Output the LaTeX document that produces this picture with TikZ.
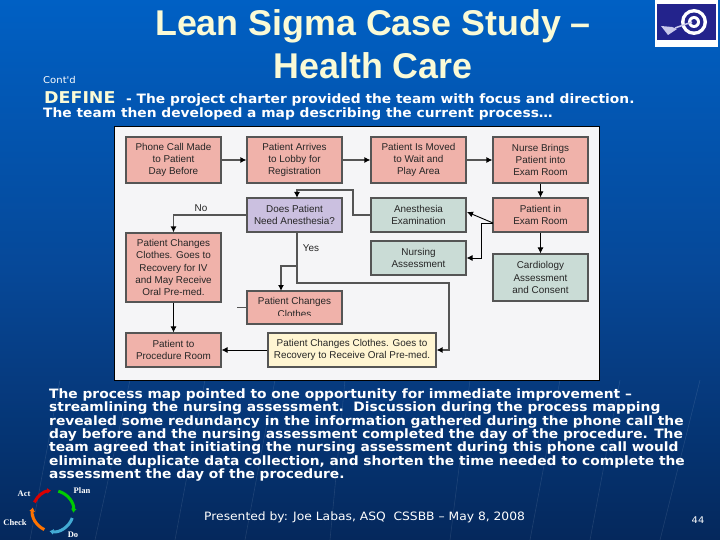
\documentclass[tikz,border=0pt]{standalone}
\usepackage{fontspec}
\usepackage{xcolor}
\setmainfont{Liberation Sans}
\newfontfamily\bodyfont[FakeStretch=1.07]{DejaVu Sans}
\newfontfamily\ladderfont{Liberation Serif}
\usetikzlibrary{arrows.meta, calc}
\definecolor{skytop}{RGB}{0,96,196}
\definecolor{skymid}{RGB}{6,72,152}
\definecolor{skylow}{RGB}{5,40,92}
\definecolor{titlecream}{RGB}{250,250,214}
\definecolor{panelgray}{RGB}{245,245,247}
\definecolor{boxred}{RGB}{240,178,170}
\definecolor{boxlilac}{RGB}{203,192,224}
\definecolor{boxgreen}{RGB}{202,220,214}
\definecolor{boxcream}{RGB}{255,245,210}
\definecolor{edgegray}{RGB}{85,85,85}
\definecolor{logonavy}{RGB}{35,35,140}
\definecolor{logopale}{RGB}{200,200,235}
\tikzset{
  procbox/.style={draw=edgegray,line width=1.1pt,fill=boxred,minimum width=95pt,align=center,
    inner sep=0pt,font=\fontsize{9.9}{12.4}\selectfont,text=black!85},
  grayline/.style={draw=edgegray,line width=1.4pt,-{Latex[black,length=6pt,width=6pt]}},
  blackline/.style={draw=black,line width=0.9pt,-{Latex[black,length=6pt,width=6pt]}},
  bodyline/.style={anchor=base west,inner sep=0pt,text=white,font=\bodyfont\bfseries\fontsize{12.9}{13}\selectfont},
  pdca/.style={line width=3pt,-{Latex[length=4pt,width=6pt]}},
  pdcalabel/.style={text=white,inner sep=0pt,font=\ladderfont\bfseries\fontsize{8.5}{9}\selectfont},
}
\begin{document}
\begin{tikzpicture}[x=1pt,y=-1pt]
  \useasboundingbox (0,0) rectangle (720,540);
  % slide background
  \shade[top color=skytop,bottom color=skylow,middle color=skymid,shading angle=0] (0,0) rectangle (720,540);
  \foreach \i/\j in {60/30,130/95,205/175,275/245,345/330,470/450,560/530,620/590,700/660}{
    \draw[white,opacity=0.10,line width=0.6pt] (\i,380) -- (\j,540);
  }
  % title block
  \node[text=titlecream,align=center,inner sep=0pt,font=\bfseries\fontsize{35.8}{43}\selectfont] (title) at (373,44) {Lean Sigma Case Study –\\Health Care};
  \node[anchor=base west,inner sep=0pt,text=white,font=\bodyfont\fontsize{9.4}{10}\selectfont] (contd) at (43,84) {Cont'd};
  \node[anchor=base west,inner sep=0pt,text=titlecream,font=\bodyfont\bfseries\fontsize{16.3}{17}\selectfont] (define) at (44,104) {DEFINE};
  \node[bodyline] (chartera) at (126,104) {- The project charter provided the team with focus and direction.};
  \node[bodyline] (charterb) at (43,118) {The team then developed a map describing the current process\ldots};
  % corner logo
  \fill[white] (655,0) rectangle (718,47);
  \fill[logonavy] (657,4) rectangle (716,40);
  \foreach \r/\c in {13/white,9.5/logonavy,6/white,3/logonavy}{
    \fill[\c] (694,22) circle (\r);
  }
  \draw[logopale,line width=1.5pt] (675,28) -- (692,22);
  \fill[logopale] (661,26) -- (672,27) -- (677,29) -- (668,35) -- cycle;
  % process map panel
  \node[draw=black,line width=0.8pt,fill=panelgray,minimum width=485pt,minimum height=254pt,inner sep=0pt] (panel) at (357,253) {};
  \node[procbox,minimum height=46pt] (phone) at (173.5,160) {Phone Call Made\\to Patient\\Day Before};
  \node[procbox,minimum height=46pt] (arrives) at (294.5,160) {Patient Arrives\\to Lobby for\\Registration};
  \node[procbox,minimum height=46pt] (moved) at (418.5,160) {Patient Is Moved\\to Wait and\\Play Area};
  \node[procbox,minimum height=46pt] (nurse) at (540.5,160) {Nurse Brings\\Patient into\\Exam Room};
  \node[procbox,minimum height=34pt,fill=boxlilac] (does) at (294.5,215) {Does Patient\\Need Anesthesia?};
  \node[procbox,minimum height=34pt,fill=boxgreen] (anes) at (418.5,215) {Anesthesia\\Examination};
  \node[procbox,minimum height=34pt] (exam) at (540.5,215) {Patient in\\Exam Room};
  \node[procbox,minimum height=34pt,fill=boxgreen] (nursing) at (418.5,258) {Nursing\\Assessment};
  \node[procbox,minimum height=47pt,fill=boxgreen] (cardio) at (540.5,277.5) {Cardiology\\Assessment\\and Consent};
  \node[procbox,minimum height=69pt] (changeiv) at (173.5,267.5) {Patient Changes\\Clothes. Goes to\\Recovery for IV\\and May Receive\\Oral Pre-med.};
  \node[procbox,minimum height=33pt] (clothes) at (294.5,307.5) {Patient Changes\\Clothes};
  \fill[boxred] (248,316) rectangle (341,323); % bottom of the word is cut off
  \node[procbox,minimum height=34pt] (proc) at (173.5,350) {Patient to\\Procedure Room};
  \node[procbox,minimum width=168pt,minimum height=34pt,fill=boxcream] (recov) at (352,350) {Patient Changes Clothes. Goes to\\Recovery to Receive Oral Pre-med.};
  \coordinate (examout) at (493,223);
  \coordinate (anesin) at (467,212);
  \coordinate (anesturn) at (353,190);
  \coordinate (doesin) at (297,198);
  \coordinate (doesout) at (297,232);
  \coordinate (yesturn) at (449,283);
  \coordinate (yesbranch) at (297,266);
  \coordinate (clothesin) at (281,291);
  \coordinate (clothesstub) at (237,307.5);
  % connectors
  \draw[grayline] (phone) -- (arrives);
  \draw[grayline] (arrives) -- (moved);
  \draw[grayline] (moved) -- (nurse);
  \draw[blackline] (nurse) -- (exam);
  \draw[blackline] (exam) -- (cardio);
  \draw[blackline] (examout) -- (anesin);
  \draw[blackline] (examout) -- ++(-12,0) |- (nursing.east);
  \draw[grayline] (anes.west) -| (anesturn) -| (doesin);
  \draw[grayline] (does.west) -| (changeiv.north);
  \draw[grayline] (doesout) |- (yesturn) |- (recov.east);
  \draw[grayline] (yesbranch) -| (clothesin);
  \draw[draw=edgegray,line width=1.1pt] (clothesstub) -- (clothes.west);
  \draw[blackline] (changeiv) -- (proc);
  \draw[blackline] (recov) -- (proc);
  \node[font=\fontsize{9.9}{11}\selectfont,text=black!85,inner sep=0pt] (nolabel) at (201,208) {No};
  \node[font=\fontsize{9.9}{11}\selectfont,text=black!85,inner sep=0pt] (yeslabel) at (311,248) {Yes};
  % body text
  \node[bodyline] (linea) at (49,398) {The process map pointed to one opportunity for immediate improvement –};
  \node[bodyline] (lineb) at (49,411.5) {streamlining the nursing assessment.\ \ Discussion during the process mapping};
  \node[bodyline] (linec) at (49,425) {revealed some redundancy in the information gathered during the phone call the};
  \node[bodyline] (lined) at (49,438.5) {day before and the nursing assessment completed the day of the procedure. The};
  \node[bodyline] (linee) at (49,451.5) {team agreed that initiating the nursing assessment during this phone call would};
  \node[bodyline] (linef) at (49,465) {eliminate duplicate data collection, and shorten the time needed to complete the};
  \node[bodyline] (lineg) at (49,478.5) {assessment the day of the procedure.};
  % footer
  \node[anchor=base west,inner sep=0pt,text=white,font=\bodyfont\fontsize{11.5}{12}\selectfont] (footer) at (204,520) {Presented by: Joe Labas, ASQ\ \ CSSBB – May 8, 2008};
  \node[text=white,inner sep=0pt,font=\bodyfont\fontsize{9.2}{10}\selectfont] (pageno) at (698,520) {44};
  % plan do check act wheel
  \coordinate (wheel) at (53,511);
  \draw[pdca,green!80!black] ($(wheel)+(-75:20.5)$) arc[start angle=-75,end angle=5,radius=20.5];
  \draw[pdca,cyan!70!gray] ($(wheel)+(20:20.5)$) arc[start angle=20,end angle=100,radius=20.5];
  \draw[pdca,orange!90!red] ($(wheel)+(115:20.5)$) arc[start angle=115,end angle=190,radius=20.5];
  \draw[pdca,red!85!black] ($(wheel)+(205:20.5)$) arc[start angle=205,end angle=265,radius=20.5];
  \node[pdcalabel] (plan) at (82,491) {Plan};
  \node[pdcalabel] (dolabel) at (73,535) {Do};
  \node[pdcalabel] (check) at (15,523) {Check};
  \node[pdcalabel] (act) at (24,494) {Act};
\end{tikzpicture}
\end{document}
